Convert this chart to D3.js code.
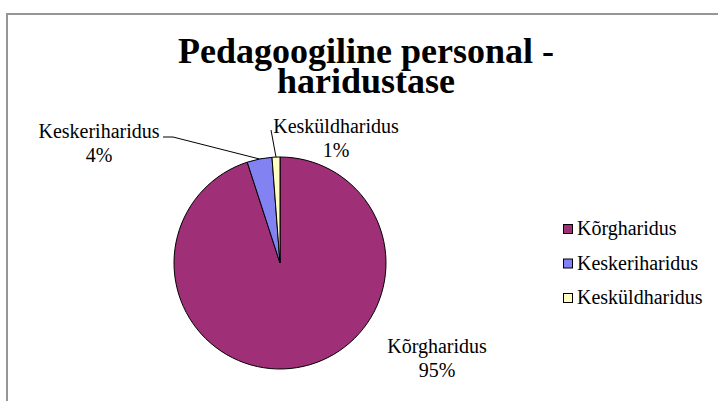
<!DOCTYPE html>
<html>
<head>
<meta charset="utf-8">
<script src="https://cdn.jsdelivr.net/npm/d3@7"></script>
<style>
  body { margin: 0; background: #fff; }
</style>
</head>
<body>
<div id="vis"></div>
<script>
var width = 718, height = 401;
var serif = "'Liberation Serif', 'DejaVu Serif', serif";

// data
var categories = ["Kõrgharidus", "Keskeriharidus", "Kesküldharidus"];
var values = [95.0, 3.8, 1.2];
var percentLabels = ["95%", "4%", "1%"];
var colors = ["#9f2f77", "#8282f2", "#ffffc4"];
var titleLines = ["Pedagoogiline personal -", "haridustase"];

/* pie geometry */
var cx = 280, cy = 263, radius = 106;

var svg = d3.select("#vis").append("svg")
    .attr("width", width)
    .attr("height", height)
    .attr("font-family", serif);

/* chart frame (runs off the right and bottom of the picture) */
svg.append("rect")
    .attr("x", 7)
    .attr("y", 14)
    .attr("width", 740)
    .attr("height", 420)
    .attr("fill", "none")
    .attr("stroke", "#969696")
    .attr("stroke-width", 2);

/* title, two lines in one text element */
svg.append("text")
    .attr("text-anchor", "middle")
    .attr("font-family", serif)
    .attr("font-size", 36)
    .attr("font-weight", "bold")
    .selectAll("tspan")
    .data(titleLines)
    .enter()
    .append("tspan")
    .attr("x", 366)
    .attr("y", function(d, i) { return 63 + i * 30; })
    .text(function(d) { return d; });

var pie = d3.pie().sort(null).value(function(d) { return d; });
var arcs = pie(values);
var arc = d3.arc().innerRadius(0).outerRadius(radius);

var g = svg.append("g").attr("transform", "translate(" + cx + "," + cy + ")");

g.selectAll("path")
    .data(arcs)
    .enter()
    .append("path")
    .attr("d", arc)
    .attr("fill", function(d, i) { return colors[i]; })
    .attr("stroke", "#000")
    .attr("stroke-width", 1);

/* point on the rim at the middle of a slice */
function rimPoint(d) {
    var a = (d.startAngle + d.endAngle) / 2;
    return [cx + radius * Math.sin(a), cy - radius * Math.cos(a)];
}

/* data labels: x centre, first baseline, leader line points */
var labelPos = [
    {x: 437, y: 353, leader: null},
    {x: 99, y: 138, leader: [[163, 137], [173, 137]]},
    {x: 336, y: 133, leader: [[271, 130]]}
];

arcs.forEach(function(d, i) {
    var p = labelPos[i];
    if (p.leader) {
        var pts = p.leader.concat([rimPoint(d)]);
        svg.append("path")
            .attr("d", d3.line()(pts))
            .attr("fill", "none")
            .attr("stroke", "#000")
            .attr("stroke-width", 1);
    }
    var t = svg.append("text")
        .attr("text-anchor", "middle")
        .attr("font-family", serif)
        .attr("font-size", 20);
    t.append("tspan").attr("x", p.x).attr("y", p.y).text(categories[i]);
    t.append("tspan").attr("x", p.x).attr("y", p.y + 24).text(percentLabels[i]);
});

/* legend */
var legend = svg.selectAll(".legend")
    .data(categories)
    .enter()
    .append("g")
    .attr("class", "legend")
    .attr("transform", function(d, i) { return "translate(563," + (229 + i * 34.5) + ")"; });

legend.append("rect")
    .attr("x", 0.5)
    .attr("y", -4.5)
    .attr("width", 9)
    .attr("height", 9)
    .attr("fill", function(d, i) { return colors[i]; })
    .attr("stroke", "#000")
    .attr("stroke-width", 1);

legend.append("text")
    .attr("x", 14)
    .attr("y", 6)
    .attr("font-family", serif)
    .attr("font-size", 20)
    .text(function(d) { return d; });
</script>
</body>
</html>
